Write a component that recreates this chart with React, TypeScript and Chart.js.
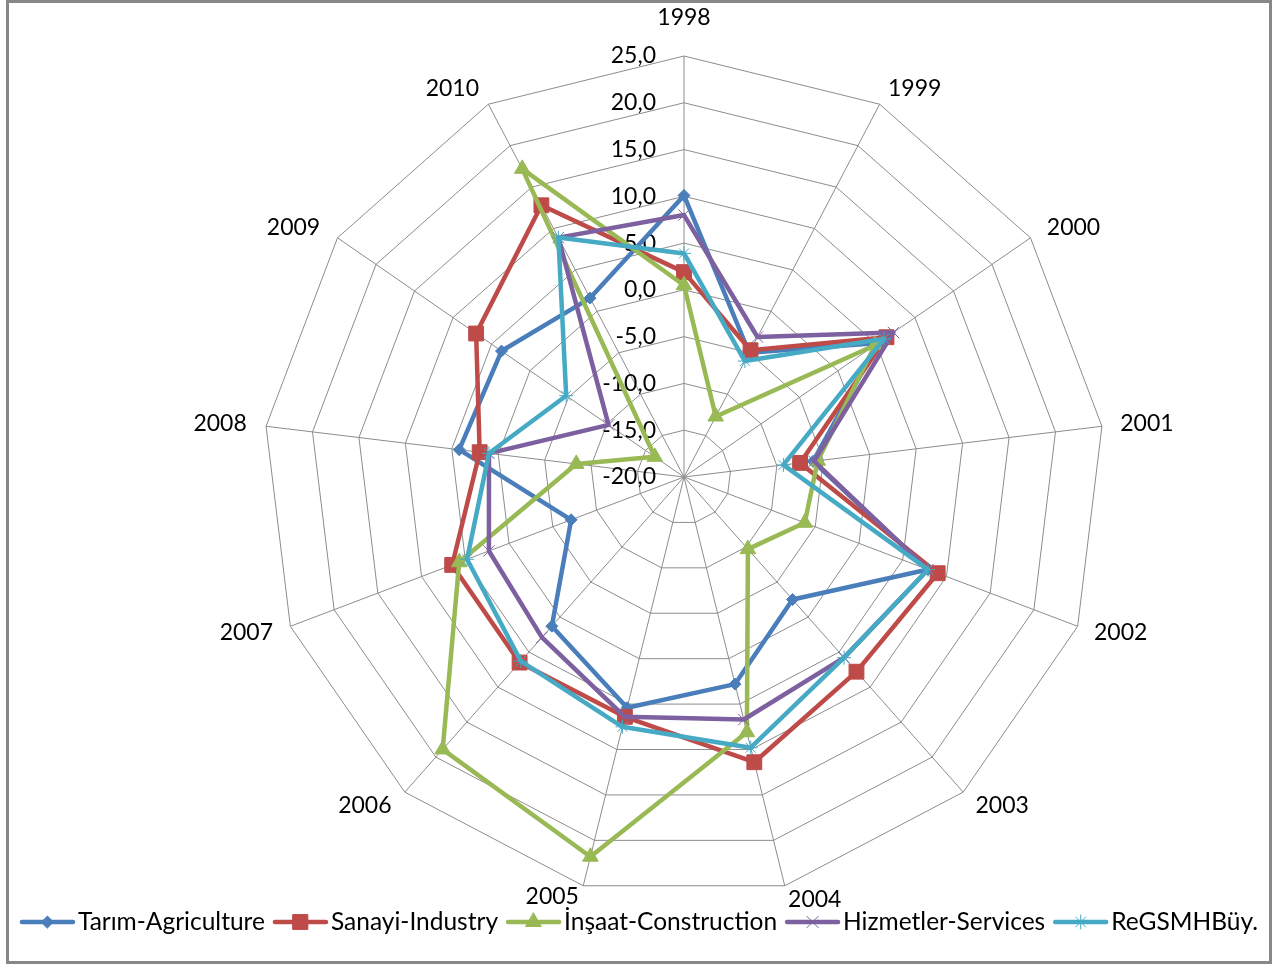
import React, { useEffect, useRef } from 'react';
import { Chart, registerables } from 'chart.js';
import { drawPoint } from 'chart.js/helpers';

Chart.register(...registerables);

// ---- data ----
const YEARS = ['1998', '1999', '2000', '2001', '2002', '2003', '2004', '2005', '2006', '2007', '2008', '2009', '2010'];
const TARIM = [10.1, -5.0, 5.2, -6.1, 7.9, -2.5, 2.8, 5.4, 1.3, -7.1, 4.2, 3.7, 1.6];
const SANAYI = [1.9, -4.7, 6.3, -7.5, 9.0, 7.8, 11.4, 6.4, 6.5, 6.5, 2.0, 7.0, 12.8];
const INSAAT = [0.5, -12.7, 4.8, -5.6, -6.2, -9.7, 8.1, 21.8, 18.9, 5.7, -8.4, -16.2, 17.2];
const HIZMETLER = [8.0, -3.1, 7.2, -6.0, 7.9, 5.8, 6.7, 6.4, 2.9, 2.3, 1.0, -10.2, 8.9];
const REGSMH = [3.9, -6.0, 6.0, -9.3, 7.9, 5.8, 9.8, 7.5, 6.3, 4.8, 1.0, -4.7, 8.9];
const SERIES_NAMES = ['Tarım-Agriculture', 'Sanayi-Industry', 'İnşaat-Construction', 'Hizmetler-Services', 'ReGSMHBüy.'];
const TICK_MIN = -20;
const TICK_MAX = 25;
const TICK_STEP = 5;

// ---- styles ----
const COLORS = ['#4A7EBB', '#BE4B48', '#98B954', '#7D60A0', '#46AAC5'];
const POINT_STYLES = ['rectRot', 'rect', 'triangle', 'crossRot', 'star'];
const POINT_RADII = [6, 10.5, 9, 8, 7];
const POINT_BORDERS = [1, 1, 1, 1, 1];
const FONT = '23px Lato';
const LEGEND_FONT = '24.5px Lato';
// label centre offset from the outer vertex of each spoke
const LABEL_OFFSETS: [number, number][] = [
  [0, -38], [35, -16], [43, -10], [45, -3], [43, 6], [39, 13], [30, 14],
  [-31, 11], [-40, 13], [-44, 6], [-46, -3], [-44, -10], [-36, -16],
];
const TICK_LABEL_SHIFT = 28;
const LEGEND_Y = 919;

const fmt = (v: number) => v.toFixed(1).replace('.', ',');

const radarText = {
  id: 'radarText',
  beforeDatasetsDraw(chart: any) {
    const s = chart.scales.r;
    const ctx = chart.ctx;
    ctx.save();
    ctx.font = FONT;
    ctx.fillStyle = '#000';
    ctx.textBaseline = 'middle';
    ctx.textAlign = 'right';
    s.ticks.forEach((t: any) => {
      const d = s.getDistanceFromCenterForValue(t.value);
      ctx.fillText(fmt(t.value), s.xCenter - TICK_LABEL_SHIFT, s.yCenter - d);
    });
    ctx.textAlign = 'center';
    chart.data.labels.forEach((lab: string, i: number) => {
      const p = s.getPointPosition(i, s.drawingArea);
      const o = LABEL_OFFSETS[i];
      ctx.fillText(lab, p.x + o[0], p.y + o[1]);
    });
    ctx.restore();
  },
};

const excelLegend = {
  id: 'excelLegend',
  afterDraw(chart: any) {
    const ctx = chart.ctx;
    const ds = chart.data.datasets;
    ctx.save();
    ctx.font = LEGEND_FONT;
    const LINE = 55, G1 = 3, G2 = 8;
    const widths = ds.map((d: any) => ctx.measureText(d.label).width);
    const total = widths.reduce((a: number, w: number) => a + LINE + G1 + w, 0) + G2 * (ds.length - 1);
    let x = (chart.width - total) / 2;
    const y = LEGEND_Y;
    ds.forEach((d: any, i: number) => {
      ctx.strokeStyle = d.borderColor;
      ctx.lineWidth = 4.5;
      ctx.lineCap = 'round';
      ctx.beginPath();
      ctx.moveTo(x + 2, y);
      ctx.lineTo(x + LINE - 2, y);
      ctx.stroke();
      ctx.fillStyle = d.pointBackgroundColor;
      ctx.strokeStyle = d.pointBorderColor;
      ctx.lineWidth = d.pointBorderWidth;
      drawPoint(ctx, { pointStyle: d.pointStyle, radius: d.pointRadius, borderWidth: d.pointBorderWidth, rotation: 0 }, x + LINE / 2, y);
      ctx.fillStyle = '#000';
      ctx.textAlign = 'left';
      ctx.textBaseline = 'middle';
      ctx.fillText(d.label, x + LINE + G1, y);
      x += LINE + G1 + widths[i] + G2;
    });
    ctx.restore();
  },
};

export default function App() {
  const ref = useRef<HTMLCanvasElement>(null);
  useEffect(() => {
    const values = [TARIM, SANAYI, INSAAT, HIZMETLER, REGSMH];
    const chart = new Chart(ref.current as HTMLCanvasElement, {
      type: 'radar',
      data: {
        labels: YEARS,
        datasets: values.map((v, i) => ({
          label: SERIES_NAMES[i],
          data: v,
          borderColor: COLORS[i],
          backgroundColor: COLORS[i],
          borderWidth: 4.5,
          fill: false,
          tension: 0,
          pointStyle: POINT_STYLES[i] as any,
          pointRadius: POINT_RADII[i],
          pointBorderWidth: POINT_BORDERS[i],
          pointBackgroundColor: COLORS[i],
          pointBorderColor: COLORS[i],
          order: values.length - 1 - i,
        })),
      },
      options: {
        animation: false,
        responsive: false,
        devicePixelRatio: 1,
        layout: { padding: { left: 90, right: 0, top: 53, bottom: 63 } },
        elements: { line: { borderJoinStyle: 'round' } },
        plugins: { legend: { display: false }, tooltip: { enabled: false } },
        scales: {
          r: {
            min: TICK_MIN,
            max: TICK_MAX,
            ticks: { stepSize: TICK_STEP, display: false, callback: (v: any) => fmt(Number(v)) },
            grid: { color: '#8c8c8c', lineWidth: 1 },
            angleLines: { color: '#8c8c8c', lineWidth: 1 },
            pointLabels: { display: false },
          },
        },
      },
      plugins: [radarText, excelLegend],
    });
    return () => chart.destroy();
  }, []);
  return (
    <div
      style={{
        position: 'absolute',
        left: 6,
        top: 0,
        width: 1266,
        height: 964,
        border: '3px solid #878787',
        boxSizing: 'border-box',
        background: '#fff',
      }}
    >
      <canvas ref={ref} width={1260} height={958} style={{ position: 'absolute', left: 0, top: 0, width: 1260, height: 958 }} />
    </div>
  );
}
